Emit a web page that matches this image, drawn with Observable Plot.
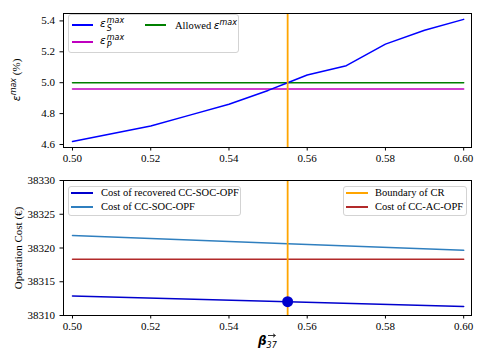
<!DOCTYPE html>
<html><head><meta charset="utf-8">
<script src="https://cdn.jsdelivr.net/npm/d3@7"></script>
<script src="https://cdn.jsdelivr.net/npm/@observablehq/plot@0.6"></script>
<style>
body{margin:0;background:#fff}
#wrap{position:relative;width:485px;height:363px;font-family:"Liberation Serif",serif;color:#000;overflow:hidden}
.p{position:absolute;left:0}
.leg{position:absolute;background:rgba(255,255,255,0.85);border:1px solid #d3d3d3;border-radius:3px;box-sizing:border-box}
.it{position:absolute;font-size:10.5px;line-height:1;white-space:nowrap;transform:translateY(-50%)}
.sw{position:absolute;height:2px;transform:translateY(-50%)}
.m{font-family:"DejaVu Sans",sans-serif;font-style:italic}
.ss{display:inline-block;vertical-align:middle;font-family:"DejaVu Sans",sans-serif;font-style:italic;font-size:8px;line-height:8px;margin-left:1px}
.ss span{display:block}
.rot{position:absolute;transform:translate(-50%,-50%) rotate(-90deg);white-space:nowrap;font-size:11px;line-height:1}
</style></head><body><div id="wrap"></div>
<script>
// ---- data ----
const beta = [0.50, 0.51, 0.52, 0.53, 0.54, 0.55, 0.555, 0.56, 0.57, 0.58, 0.59, 0.60];
const epsS = [4.62, 4.67, 4.72, 4.79, 4.86, 4.95, 5.00, 5.05, 5.11, 5.25, 5.34, 5.41];
const epsP = 4.96;
const epsAllowed = 5.00;
const boundaryCR = 0.555;
const betaCost = [0.50, 0.555, 0.60];
const costRecovered = [38312.9, 38312.05, 38311.35];
const costSOC = [38321.85, 38320.63, 38319.65];
const costAC = 38318.35;
const costAtBoundary = 38312.05;
const xTicks = [0.50, 0.52, 0.54, 0.56, 0.58, 0.60];
const yTicksTop = [4.6, 4.8, 5.0, 5.2, 5.4];
const yTicksBottom = [38310, 38315, 38320, 38325, 38330];
const xDomain = [0.4977, 0.602];
const yDomainTop = [4.5805, 5.448];
const yDomainBottom = [38310, 38330];

const topRows = beta.map((b, i) => ({b, s: epsS[i]}));
const costRows = betaCost.map((b, i) => ({b, r: costRecovered[i], soc: costSOC[i]}));

const style = {fontFamily: "'Liberation Serif', serif", fontSize: "11px", color: "#000", background: "transparent", overflow: "visible"};

const topPlot = Plot.plot({
  width: 485, height: 170, marginLeft: 63, marginRight: 14, marginTop: 13, marginBottom: 23,
  style,
  x: {domain: xDomain},
  y: {domain: yDomainTop},
  marks: [
    Plot.axisX(xTicks, {tickSize: 3.5, tickPadding: 3, tickFormat: ".2f", label: null}),
    Plot.axisY(yTicksTop, {tickSize: 3.5, tickPadding: 5, tickFormat: ".1f", label: null}),
    Plot.line(beta, {x: d => d, y: () => epsAllowed, stroke: "#008000", strokeWidth: 1.5}),
    Plot.line(beta, {x: d => d, y: () => epsP, stroke: "#bf00bf", strokeWidth: 1.5}),
    Plot.line(topRows, {x: "b", y: "s", stroke: "#0000ff", strokeWidth: 1.5}),
    Plot.ruleX([boundaryCR], {stroke: "#ffa500", strokeWidth: 1.8}),
    Plot.frame({stroke: "#000", strokeWidth: 1})
  ]
});

const botPlot = Plot.plot({
  width: 485, height: 193, marginLeft: 63, marginRight: 14, marginTop: 10, marginBottom: 48,
  style,
  x: {domain: xDomain},
  y: {domain: yDomainBottom},
  marks: [
    Plot.axisX(xTicks, {tickSize: 3.5, tickPadding: 3, tickFormat: ".2f", label: null}),
    Plot.axisY(yTicksBottom, {tickSize: 3.5, tickPadding: 5, tickFormat: "d", label: null}),
    Plot.line(costRows, {x: "b", y: "soc", stroke: "#2f7fbf", strokeWidth: 1.5}),
    Plot.line(betaCost, {x: d => d, y: () => costAC, stroke: "#b22a2a", strokeWidth: 1.5}),
    Plot.line(costRows, {x: "b", y: "r", stroke: "#0000cd", strokeWidth: 1.5}),
    Plot.ruleX([boundaryCR], {stroke: "#ffa500", strokeWidth: 1.8}),
    Plot.dot([{b: boundaryCR, c: costAtBoundary}], {x: "b", y: "c", r: 5.5, fill: "#0000cd", stroke: "none"}),
    Plot.frame({stroke: "#000", strokeWidth: 1})
  ]
});

const wrap = document.getElementById("wrap");
topPlot.classList.add("p"); topPlot.style.top = "0px";
botPlot.classList.add("p"); botPlot.style.top = "170px";
wrap.appendChild(topPlot);
wrap.appendChild(botPlot);

const epsLabel = (sub) => `<span class="m">ε</span><span class="ss"><span>max</span><span>${sub}</span></span>`;

wrap.insertAdjacentHTML("beforeend", `
<div class="rot" style="left:16px;top:80px"><span class="m">ε</span><sup class="m" style="font-size:8px">max</sup> (%)</div>
<div class="rot" style="left:17.5px;top:247.5px">Operation Cost (€)</div>
<div style="position:absolute;left:258px;top:335px;font-size:12px;line-height:1;white-space:nowrap">
  <span class="m" style="font-weight:600">β</span><span style="display:inline-block;font-family:'DejaVu Sans';font-style:italic;font-size:8px;line-height:8px;vertical-align:-3px">37</span>
</div>
<svg style="position:absolute;left:267px;top:333px" width="10" height="5"><path d="M1,2.5H8M6,0.8L8.5,2.5L6,4.2" stroke="#000" stroke-width="0.8" fill="none"/></svg>

<div class="leg" style="left:68px;top:14px;width:171px;height:39px"></div>
<div class="sw" style="left:72px;width:21px;top:25px;background:#0000ff"></div>
<div class="it" style="left:100px;top:25px">${epsLabel("S")}</div>
<div class="sw" style="left:72px;width:21px;top:42px;background:#bf00bf"></div>
<div class="it" style="left:100px;top:42px">${epsLabel("P")}</div>
<div class="sw" style="left:145px;width:21px;top:25px;background:#008000"></div>
<div class="it" style="left:175px;top:25px">Allowed <span class="m">ε</span><sup class="m" style="font-size:8px">max</sup></div>

<div class="leg" style="left:68px;top:186px;width:173px;height:30px"></div>
<div class="sw" style="left:71px;width:22px;top:193px;background:#0000cd"></div>
<div class="it" style="left:101px;top:193px">Cost of recovered CC-SOC-OPF</div>
<div class="sw" style="left:71px;width:22px;top:207px;background:#2f7fbf"></div>
<div class="it" style="left:101px;top:207px">Cost of CC-SOC-OPF</div>

<div class="leg" style="left:343px;top:186px;width:124px;height:30px"></div>
<div class="sw" style="left:346px;width:22px;top:193px;background:#ffa500"></div>
<div class="it" style="left:375px;top:193px">Boundary of CR</div>
<div class="sw" style="left:346px;width:22px;top:207px;background:#b22a2a"></div>
<div class="it" style="left:375px;top:207px">Cost of CC-AC-OPF</div>
`);
</script></body></html>
